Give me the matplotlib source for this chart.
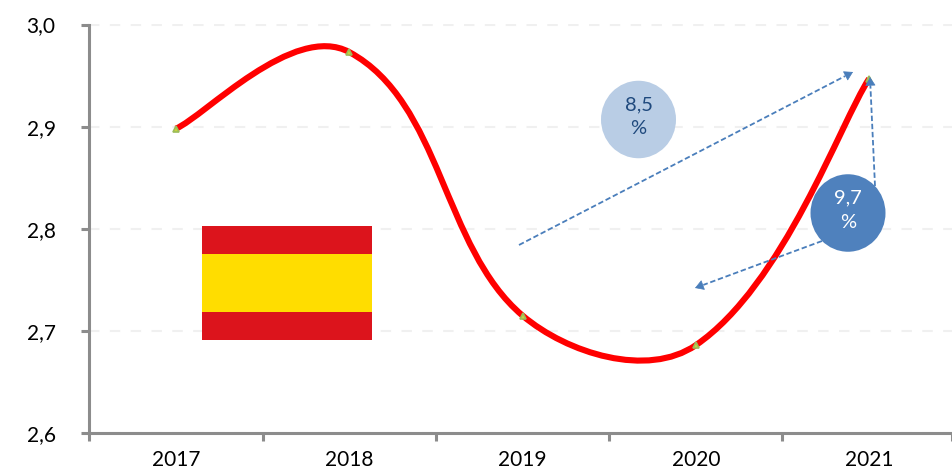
import matplotlib
matplotlib.use('Agg')
import matplotlib.pyplot as plt
import numpy as np
from matplotlib.patches import Rectangle, Ellipse, PathPatch, FancyArrowPatch
from matplotlib.path import Path
from matplotlib.transforms import IdentityTransform

plt.rcParams['font.family'] = ['Lato', 'DejaVu Sans']

years = ['2017', '2018', '2019', '2020', '2021']
values = [2.898, 2.973, 2.715, 2.686, 2.947]
y_ticks = [2.6, 2.7, 2.8, 2.9, 3.0]
y_labels = ['2,6', '2,7', '2,8', '2,9', '3,0']
bubble_labels = ['8,5\n%', '9,7\n%']

W, H = 953, 469
GREY = '#8c8c8c'
BLUE = '#4a7ebb'


def fx(x):
    return x / W


def fy(y):
    return 1 - y / H


def smooth_path(pts, k=1 / 3):
    # smoothed line like Excel: each handle is as long as a third of its own chord
    n = len(pts)
    verts = [pts[0]]
    codes = [Path.MOVETO]
    for i in range(n - 1):
        chord = np.hypot(*(pts[i + 1] - pts[i]))
        d0 = pts[i + 1] - pts[max(i - 1, 0)]
        d1 = pts[min(i + 2, n - 1)] - pts[i]
        h0 = d0 / 6 if i == 0 else d0 / np.hypot(*d0) * chord * k
        h1 = d1 / 6 if i == n - 2 else d1 / np.hypot(*d1) * chord * k
        verts += [pts[i] + h0, pts[i + 1] - h1, pts[i + 1]]
        codes += [Path.CURVE4, Path.CURVE4, Path.CURVE4]
    return Path(verts, codes)


fig = plt.figure(figsize=(W / 100, H / 100), dpi=100)
ax = fig.add_axes([fx(89.3), fy(433), (952.3 - 89.3) / W, 408.5 / H])

x = list(range(len(years)))
ax.set_xlim(-0.5, 4.48)
ax.set_ylim(2.6, 3.0)

ax.set_yticks(y_ticks)
ax.set_yticklabels(y_labels)
ax.set_xticks(x)
ax.set_xticklabels(years)
ax.set_xticks([-0.5, 0.5, 1.5, 2.5, 3.5, 4.48], minor=True)

ax.tick_params(axis='y', length=5.8, width=2.2, color=GREY, pad=18.5, labelsize=15, labelcolor='black')
ax.tick_params(axis='x', which='major', length=0, pad=12.5, labelsize=15, labelcolor='black')
ax.tick_params(axis='x', which='minor', length=5.4, width=2.2, color=GREY)

for s in ['top', 'right']:
    ax.spines[s].set_visible(False)
for s in ['left', 'bottom']:
    ax.spines[s].set_color(GREY)
    ax.spines[s].set_linewidth(2.2)

ax.grid(axis='y', color='#f0f0f0', linewidth=1.5, linestyle=(0, (5, 5)), zorder=0)
ax.set_axisbelow(True)

pts = ax.transData.transform(np.column_stack([x, values]))
ax.add_patch(PathPatch(smooth_path(pts), transform=IdentityTransform(), facecolor='none',
                       edgecolor='#ff0000', linewidth=4.4, capstyle='butt', zorder=3))
ax.plot(x, values, linestyle='none', marker='^', markersize=4.6, markerfacecolor='#c8d43c',
        markeredgecolor='#9bbb59', markeredgewidth=1.2, zorder=4, clip_on=False)

# flag
flag = [(226, 254, '#dc141c'), (254, 311.5, '#ffdd00'), (311.5, 340, '#dc141c')]
for top, bottom, col in flag:
    fig.add_artist(Rectangle((fx(202), fy(bottom)), 170 / W, (bottom - top) / H,
                             transform=fig.transFigure, facecolor=col, edgecolor='none', zorder=2))

# arrows: dashed shaft, then a solid head on top
arrows = [((519, 245), (853, 72)), ((875, 186), (870, 77)), ((822, 241), (695, 288))]
for start, end in arrows:
    p0 = np.array(start, dtype=float)
    p1 = np.array(end, dtype=float)
    back = p1 + (p0 - p1) / np.hypot(*(p0 - p1)) * 9
    ax_line = plt.Line2D([fx(start[0]), fx(back[0])], [fy(start[1]), fy(back[1])],
                         transform=fig.transFigure, color=BLUE, linewidth=1.3,
                         linestyle=(0, (3, 1.5)), zorder=5)
    fig.add_artist(ax_line)
    fig.add_artist(FancyArrowPatch((fx(back[0]), fy(back[1])), (fx(end[0]), fy(end[1])),
                                   transform=fig.transFigure,
                                   arrowstyle='-|>,head_length=0.5,head_width=0.3', mutation_scale=11,
                                   color=BLUE, linewidth=0.5, shrinkA=0, shrinkB=0, zorder=5))

# bubbles
bubbles = [(638.5, 119.5, '#b9cde5', '#1f497d'), (848, 213, '#4f81bd', 'white')]
for (cx, cy, col, tcol), label in zip(bubbles, bubble_labels):
    fig.add_artist(Ellipse((fx(cx), fy(cy)), 75 / W, 77.5 / H, transform=fig.transFigure,
                           facecolor=col, edgecolor='none', zorder=6))
    fig.text(fx(cx), fy(cy - 3), label, ha='center', va='center', color=tcol, fontsize=14.5,
             linespacing=1.5, zorder=7)

fig.savefig('out.png', dpi=100)
